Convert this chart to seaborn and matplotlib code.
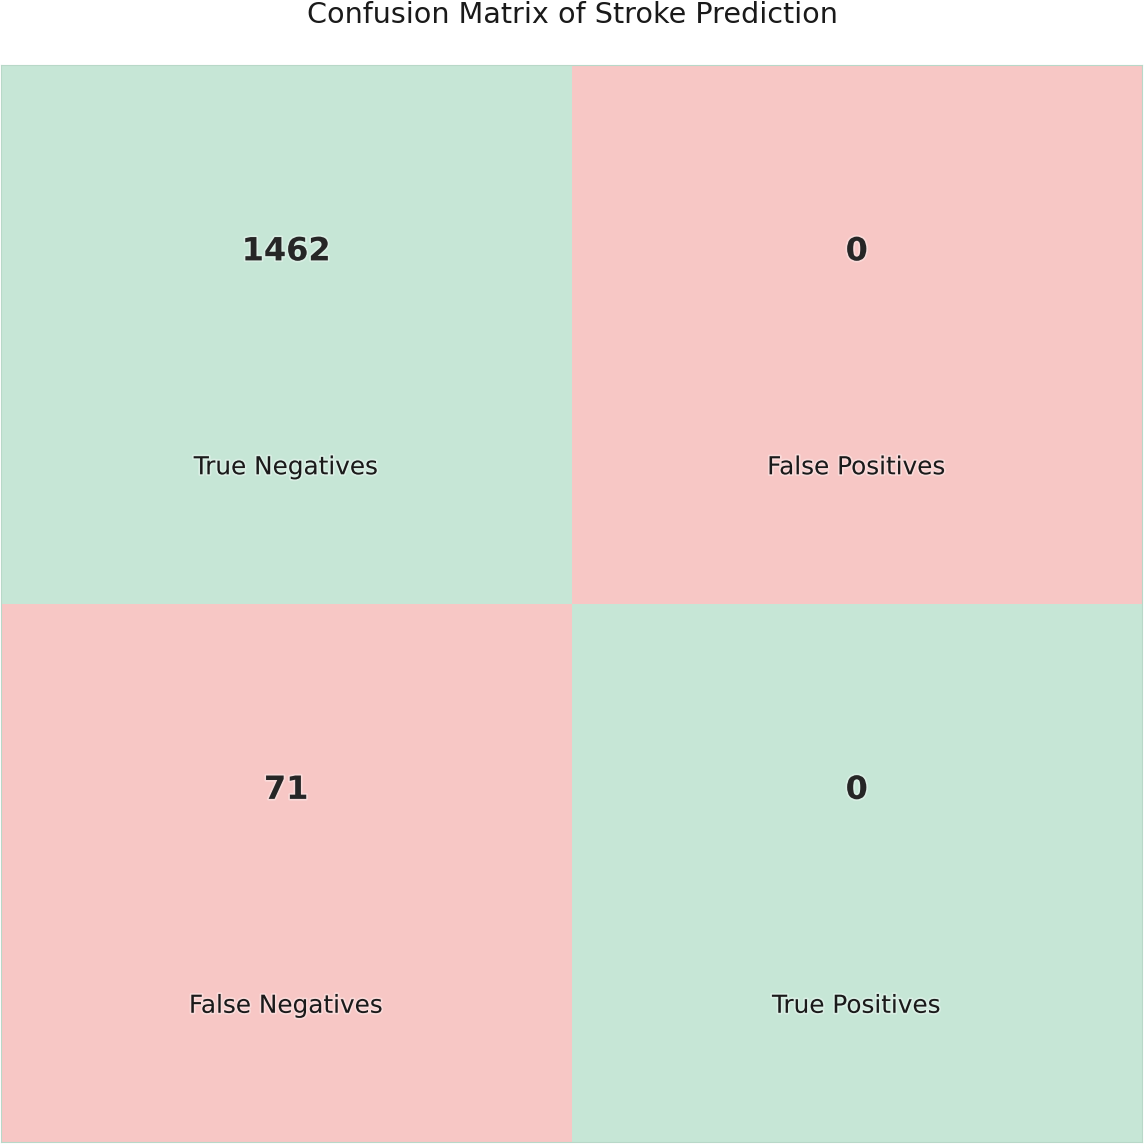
import numpy as np
import pandas as pd
import seaborn as sns
import matplotlib
matplotlib.use("Agg")
import matplotlib.pyplot as plt
from matplotlib.colors import ListedColormap
import matplotlib.patheffects as pe

# ---- data ----
actual = ["No Stroke", "Stroke"]
predicted = ["No Stroke", "Stroke"]
counts = [[1462, 0],
          [71, 0]]
cell_names = [["True Negatives", "False Positives"],
              ["False Negatives", "True Positives"]]
correct = [[1, 0],
           [0, 1]]
title = "Confusion Matrix of Stroke Prediction"

sns.set_theme(style="white")
plt.rcParams['font.family'] = ['DejaVu Sans']

W = 1144
fig = plt.figure(figsize=(W / 100, W / 100), dpi=100)
ax = fig.add_axes([1 / W, 2 / W, 1141 / W, 1077 / W])

df = pd.DataFrame(correct, index=actual, columns=predicted)
cmap = ListedColormap(["#f7c7c5", "#c6e6d6"])
sns.heatmap(df, cmap=cmap, vmin=0, vmax=1, cbar=False, ax=ax,
            xticklabels=False, yticklabels=False, linewidths=0)

stroke = [pe.withStroke(linewidth=2.5, foreground="white", alpha=0.35)]
for i in range(len(actual)):
    for j in range(len(predicted)):
        ax.text(j + 0.5, i + 0.347, f"{counts[i][j]}", ha="center", va="center",
                fontsize=23, fontweight="bold", color="#262626", path_effects=stroke)
        ax.text(j + 0.5, i + 0.747, cell_names[i][j], ha="center", va="center",
                fontsize=17.8, color="#1a1a1a", path_effects=stroke)

for s in ax.spines.values():
    s.set_visible(True)
    s.set_color("#b8d8c8")
    s.set_linewidth(0.8)

ax.set_xlabel("")
ax.set_ylabel("")
fig.text(0.5, 1 - 15 / W, title, ha="center", va="center", fontsize=20.6, color="#1a1a1a")

fig.savefig("out.png", dpi=100)
